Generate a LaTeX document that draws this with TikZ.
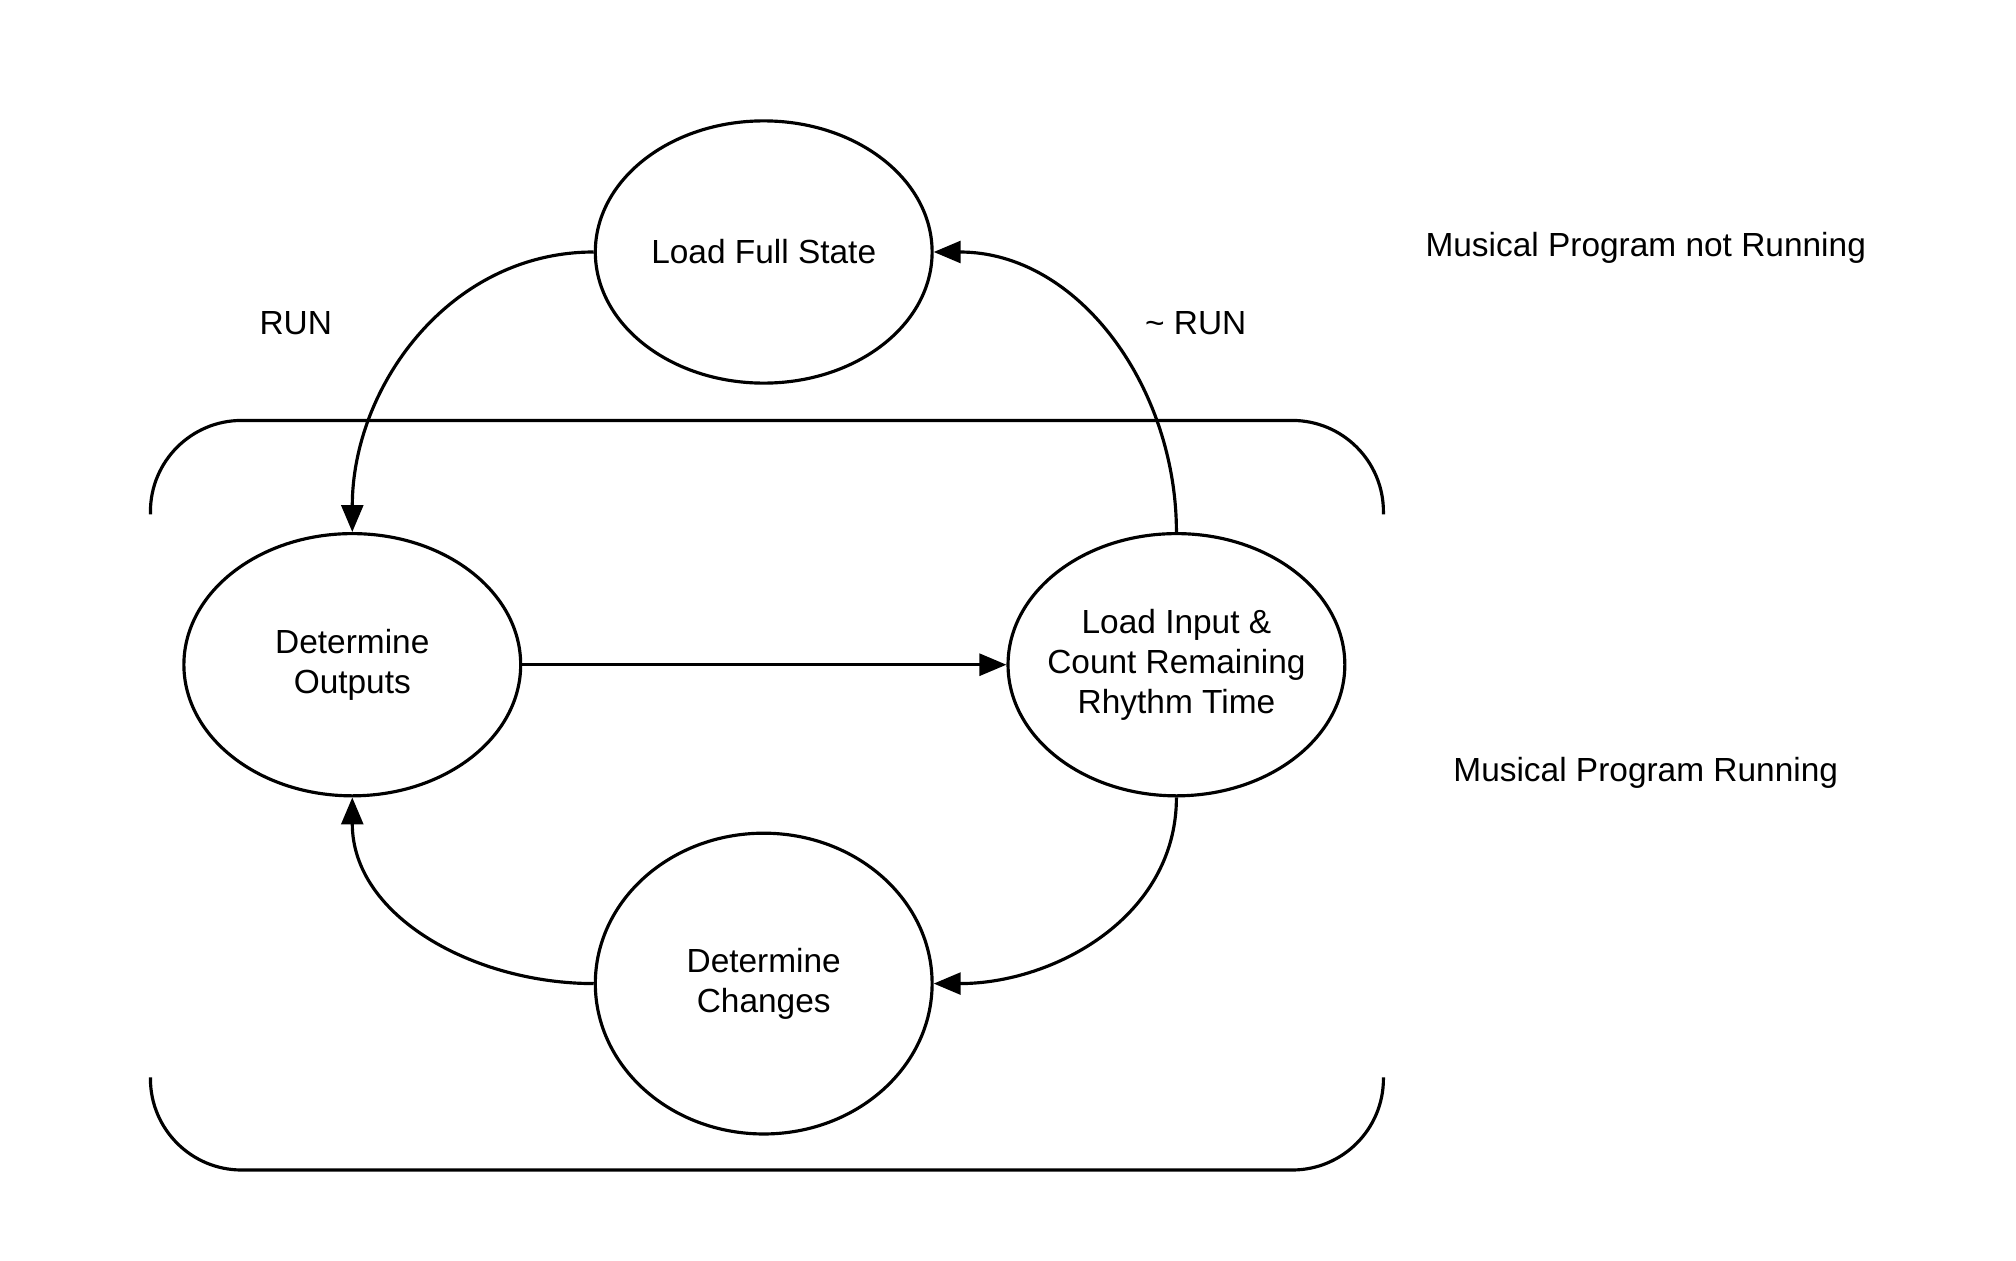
\documentclass[tikz,border=0pt]{standalone}
\usepackage{fontspec}
\setmainfont{Liberation Sans}
\usetikzlibrary{shapes.geometric, arrows.meta, positioning}

\tikzset{
  state/.style={draw, ellipse, line width=1.4pt, minimum width=5.24cm, minimum height=4.08cm, inner sep=0pt, align=center, font=\fontsize{14.8}{17.6}\selectfont},
  flow/.style={line width=1.4pt, -{Triangle[length=0.42cm, width=0.34cm]}},
  label/.style={font=\fontsize{14.8}{17.6}\selectfont}
}

\begin{document}
\begin{tikzpicture}[x=0.02cm, y=0.02cm]
  \useasboundingbox (0,0) rectangle (1568,-980);

  % States
  \node[state] (fullstate) at (594,-196) {Load Full State};
  \node[state] (outputs) at (274,-517) {Determine\\Outputs};
  \node[state, inner xsep=-0.25cm] (inputs) at (915,-517) {Load Input \&\\Count Remaining\\Rhythm Time};
  \node[state, minimum height=4.68cm] (changes) at (594,-765) {Determine\\Changes};

  % Brackets around the running loop
  \draw[line width=1.4pt, rounded corners=1.42cm] (117,-400) -- (117,-327) -- (1076,-327) -- (1076,-400);
  \draw[line width=1.4pt, rounded corners=1.42cm] (117,-838) -- (117,-910) -- (1076,-910) -- (1076,-838);

  % Transitions
  \draw[flow] (fullstate.west) to[out=180, in=90] (outputs.north);
  \draw[flow] (inputs.north) to[out=90, in=0] (fullstate.east);
  \draw[flow] (outputs.east) -- (inputs.west);
  \draw[flow] (inputs.south) to[out=-90, in=0] (changes.east);
  \draw[flow] (changes.west) to[out=180, in=-90] (outputs.south);

  % Labels
  \node[label] (run) at (230,-251) {RUN};
  \node[label] (notrun) at (930,-251) {\textasciitilde{} RUN};
  \node[label] (notrunning) at (1280,-193) {Musical Program not Running};
  \node[label] (running) at (1280,-601) {Musical Program Running};
\end{tikzpicture}
\end{document}
